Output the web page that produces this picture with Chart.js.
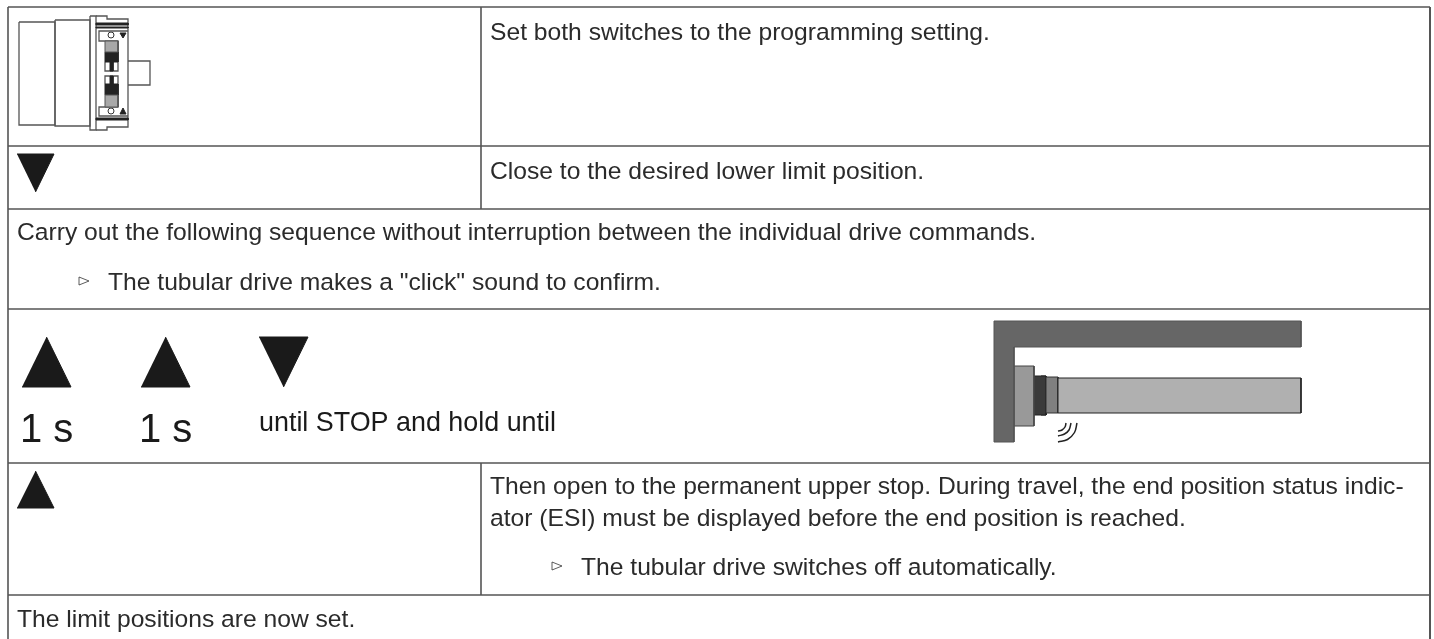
<!DOCTYPE html>
<html>
<head>
<meta charset="utf-8">
<title>Limit position setting</title>
<script src="https://cdn.jsdelivr.net/npm/chart.js@4/dist/chart.umd.js"></script>
<style>
html, body { margin: 0; padding: 0; background: #fff; }
#wrap { width: 1434px; height: 639px; }
</style>
</head>
<body>
<div id="wrap"><canvas id="quadro"></canvas></div>
<script>
// Table grid
const rowLines = [7, 146, 209, 309, 463, 595];
const tableLeft = 8;
const tableRight = 1430;
const columnLine = 481;
const splitRows = [[7, 209], [463, 595]];

// Texts of the table cells: [text, x, y]
const bodyTexts = [
    ['Set both switches to the programming setting.', 490, 33],
    ['Close to the desired lower limit position.', 490, 172],
    ['Carry out the following sequence without interruption between the individual drive commands.', 17, 233],
    ['The tubular drive makes a "click" sound to confirm.', 108, 283],
    ['Then open to the permanent upper stop. During travel, the end position status indic-', 490, 487],
    ['ator (ESI) must be displayed before the end position is reached.', 490, 519],
    ['The tubular drive switches off automatically.', 581, 568],
    ['The limit positions are now set.', 17, 620]
];
const secondText = ['1 s', '1 s'];
const secondX = [20, 139];
const secondY = 431;
const holdText = ['until STOP and hold until', 259, 424];

// Triangles (drive symbols)
const triangles = [
    [[17, 154], [54, 154], [35.5, 192]],
    [[22, 387], [71, 387], [46.5, 337]],
    [[141, 387], [190, 387], [165.5, 337]],
    [[259, 337], [308, 337], [283.5, 387]],
    [[17, 508], [54, 508], [35.5, 471]]
];
const bullets = [
    [[79, 277], [89, 281], [79, 285]],
    [[552, 562], [562, 566], [552, 570]]
];

// Switch drawing, outline pieces
const switchOutlines = [
    [[19, 22], [55, 22], [55, 125], [19, 125], [19, 22]],
    [[55, 20], [90, 20], [90, 126], [55, 126], [55, 20]],
    [[90, 16], [96, 16], [96, 130], [90, 130], [90, 16]],
    [[96, 16], [107, 16], [107, 19], [128, 19], [128, 127], [107, 127], [107, 130], [96, 130]],
    [[128, 61], [150, 61], [150, 85], [128, 85]],
    [[128, 31], [99, 31], [99, 41], [118, 41], [118, 71], [105, 71], [105, 62]],
    [[128, 116], [99, 116], [99, 107], [118, 107], [118, 76], [105, 76], [105, 84]]
];
const switchBlack = [
    [[96, 23], [128, 23], [128, 25], [96, 25], [96, 23]],
    [[96, 27], [128, 27], [128, 28], [96, 28], [96, 27]],
    [[96, 118], [128, 118], [128, 120], [96, 120], [96, 118]],
    [[110, 62], [113, 62], [113, 71], [110, 71], [110, 62]],
    [[110, 76], [113, 76], [113, 84], [110, 84], [110, 76]],
    [[105, 52], [118, 52], [118, 62], [105, 62], [105, 52]],
    [[105, 84], [118, 84], [118, 95], [105, 95], [105, 84]],
    [[120, 33], [126, 33], [123, 38], [120, 33]],
    [[120, 114], [126, 114], [123, 108], [120, 114]]
];
const switchGrey = [
    [[105, 41], [118, 41], [118, 52], [105, 52], [105, 41]],
    [[105, 95], [118, 95], [118, 107], [105, 107], [105, 95]]
];
const switchStripes = [
    [[105, 55], [118, 55]],
    [[105, 59], [118, 59]],
    [[105, 88], [118, 88]],
    [[105, 92], [118, 92]]
];
const switchRings = [[111, 35], [111, 111]];

// Drive drawing
const bracket = [[994, 321], [1301, 321], [1301, 347], [1014, 347], [1014, 442], [994, 442], [994, 321]];
const driveHead = [[1014, 366], [1034, 366], [1034, 426], [1014, 426], [1014, 366]];
const driveRing = [[1034, 376], [1046, 376], [1046, 415], [1034, 415], [1034, 376]];
const driveRingDark = [[1041, 376], [1046, 376], [1046, 415], [1041, 415], [1041, 376]];
const driveCollar = [[1046, 377], [1058, 377], [1058, 413], [1046, 413], [1046, 377]];
const driveTube = [[1058, 378], [1301, 378], [1301, 413], [1058, 413], [1058, 378]];
const driveScrew = [[1022, 390], [1034, 390], [1034, 402], [1022, 402], [1022, 390]];
const screwHole = [[1028, 396]];
const soundWaves = [
    [[1066, 423], [1065, 427], [1062, 430], [1058, 431]],
    [[1071, 423], [1069, 430], [1064.5, 434], [1058, 436]],
    [[1077, 423], [1074.5, 432.5], [1067.5, 439.5], [1058, 442]]
];

function linha(pontos, cor, largura, extra) {
    return Object.assign({
        data: pontos.map(p => ({ x: p[0], y: p[1] })),
        borderColor: cor,
        borderWidth: largura,
        backgroundColor: cor,
        showLine: true,
        pointRadius: 0,
        tension: 0,
        fill: false
    }, extra || {});
}

function forma(pontos, cor, borda, largura) {
    return linha(pontos, borda || cor, largura === undefined ? 1 : largura, { fill: 'shape', backgroundColor: cor });
}

const corLinha = '#555555';
const datasets = [];

// Grid of the table
rowLines.forEach(y => datasets.push(linha([[tableLeft, y], [tableRight, y]], corLinha, 1.6)));
datasets.push(linha([[tableLeft, rowLines[0]], [tableLeft, 639]], corLinha, 1.6));
datasets.push(linha([[tableRight, rowLines[0]], [tableRight, 639]], corLinha, 2));
splitRows.forEach(r => datasets.push(linha([[columnLine, r[0]], [columnLine, r[1]]], corLinha, 1.6)));

triangles.forEach(t => datasets.push(forma(t, '#1a1a1a')));
bullets.forEach(t => datasets.push(linha([t[0], t[1], t[2], t[0]], '#333', 0.8)));

switchGrey.forEach(s => datasets.push(forma(s, '#a8a8a8', '#555')));
switchBlack.forEach(s => datasets.push(forma(s, '#222')));
switchStripes.forEach(s => datasets.push(linha(s, '#999', 1)));
switchOutlines.forEach(s => datasets.push(linha(s, '#555', 1.3)));
datasets.push(linha(switchRings, '#444', 0, {
    showLine: false, pointRadius: 3, pointBackgroundColor: '#fff', pointBorderColor: '#333', pointBorderWidth: 1
}));

datasets.push(forma(bracket, '#666666', '#555'));
datasets.push(forma(driveHead, '#999999', '#444'));
datasets.push(forma(driveTube, '#b0b0b0', '#222'));
datasets.push(forma(driveCollar, '#808080', '#333'));
datasets.push(forma(driveRing, '#3a3a3a', '#222'));
datasets.push(forma(driveRingDark, '#222', '#111'));
datasets.push(forma(driveScrew, '#b4b4b4', '#777'));
datasets.push(linha(screwHole, '#777', 0, { showLine: false, pointRadius: 3, pointBackgroundColor: '#8a8a8a', pointBorderColor: '#666' }));
soundWaves.forEach(o => datasets.push(linha(o, '#222', 1.5, { tension: 0.4 })));

// Text through the same scales as the marks
const textos = {
    id: 'textos',
    afterDatasetsDraw(chart) {
        const { ctx, scales } = chart;
        ctx.save();
        ctx.textBaseline = 'middle';
        ctx.fillStyle = '#2b2b2b';
        ctx.font = '24.65px "Liberation Sans"';
        bodyTexts.forEach(t => ctx.fillText(t[0], scales.x.getPixelForValue(t[1]), scales.y.getPixelForValue(t[2])));
        ctx.fillStyle = '#1a1a1a';
        ctx.font = '40px "Liberation Sans"';
        secondText.forEach((t, i) => ctx.fillText(t, scales.x.getPixelForValue(secondX[i]), scales.y.getPixelForValue(secondY)));
        ctx.font = '26.9px "Liberation Sans"';
        ctx.fillText(holdText[0], scales.x.getPixelForValue(holdText[1]), scales.y.getPixelForValue(holdText[2]));
        ctx.restore();
    }
};

new Chart(document.getElementById('quadro'), {
    type: 'scatter',
    data: { datasets },
    options: {
        responsive: true,
        maintainAspectRatio: false,
        animation: false,
        layout: { padding: 0, autoPadding: false },
        plugins: { legend: { display: false }, tooltip: { enabled: false } },
        scales: {
            x: { type: 'linear', display: false, min: 0, max: 1434 },
            y: { type: 'linear', display: false, min: 0, max: 639, reverse: true }
        }
    },
    plugins: [textos]
});
</script>
</body>
</html>
